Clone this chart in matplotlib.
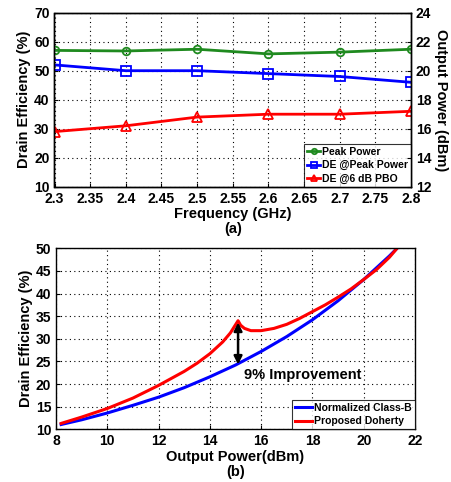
import matplotlib
matplotlib.use("Agg")
import matplotlib.pyplot as plt

plt.rcParams['font.family'] = ['Liberation Sans', 'DejaVu Sans']
plt.rcParams['font.weight'] = 'bold'

# ---- Panel (a) data ----
freq = [2.3, 2.4, 2.5, 2.6, 2.7, 2.8]
peak_power = [21.4, 21.36, 21.48, 21.16, 21.28, 21.48]      # dBm (right axis)
de_peak = [52, 50, 50, 49, 48, 46]                           # %
de_pbo = [29, 31, 34, 35, 35, 36]                            # %
freq_ticks = [2.3, 2.35, 2.4, 2.45, 2.5, 2.55, 2.6, 2.65, 2.7, 2.75, 2.8]
freq_ticklabels = ['2.3', '2.35', '2.4', '2.45', '2.5', '2.55', '2.6', '2.65', '2.7', '2.75', '2.8']

# ---- Panel (b) data ----
pout_b = [8.2, 9, 10, 11, 12, 13, 14, 15, 16, 17, 18, 19, 20, 21, 21.3]
eff_classb = [11.06, 12.1, 13.6, 15.3, 17.1, 19.2, 21.6, 24.2, 27.2, 30.5, 34.2, 38.4, 43.1, 48.3, 50.0]
pout_d = [8.2, 9, 10, 11, 12, 13, 13.5, 14, 14.5, 14.8, 15.1, 15.2, 15.35, 15.6, 16, 16.5, 17, 17.5, 18, 18.5, 19, 19.5, 20, 20.5, 21, 21.3]
eff_doherty = [11.3, 12.7, 14.6, 16.9, 19.7, 22.8, 24.6, 26.7, 29.3, 31.3, 34.0, 33.0, 32.3, 31.8, 31.8, 32.3, 33.2, 34.5, 36.0, 37.5, 39.2, 41.0, 43.1, 45.3, 48.0, 50.0]

fig = plt.figure(figsize=(4.52, 4.82), dpi=100)
W, H = 452, 482

def ax_rect(l, t, r, b):
    return [l / W, 1 - b / H, (r - l) / W, (b - t) / H]

tick_fs = 10
lab_fs = 10.5

# ---------- (a) ----------
ax1 = fig.add_axes(ax_rect(54.5, 12.7, 411, 186.7))
ax2 = ax1.twinx()
l1, = ax2.plot(freq, peak_power, color='#1f8a1f', lw=2, marker='o', ms=5.5,
               mfc='none', mec='#1f8a1f', mew=1.3, label='Peak Power')
l2, = ax1.plot(freq, de_peak, color='#0000ff', lw=2, marker='s', ms=6.5,
               mfc='none', mec='#0000ff', mew=1.3, label='DE @Peak Power')
l3, = ax1.plot(freq, de_pbo, color='#ff0000', lw=2, marker='^', ms=6.5,
               mfc='none', mec='#ff0000', mew=1.3, label='DE @6 dB PBO')
ax1.set_xlim(2.3, 2.8)
ax1.set_ylim(10, 70)
ax2.set_ylim(12, 24)
ax1.set_xticks(freq_ticks)
ax1.set_xticklabels(freq_ticklabels)
ax1.set_yticks(range(10, 71, 10))
ax2.set_yticks(range(12, 25, 2))
ax1.grid(True, color='black', linestyle=(0, (1, 3)), lw=0.8)
for a in (ax1, ax2):
    a.tick_params(labelsize=tick_fs, direction='in', length=3, width=0.8)
    for lab in a.get_xticklabels() + a.get_yticklabels():
        lab.set_fontweight('bold')
    for s in a.spines.values():
        s.set_linewidth(1.0)
ax1.set_ylabel('Drain Efficiency (%)', fontsize=lab_fs, fontweight='bold', labelpad=2)
ax2.set_ylabel('Output Power (dBm)', fontsize=lab_fs, fontweight='bold', rotation=270, labelpad=12)
ax1.set_xlabel('Frequency (GHz)\n(a)', fontsize=lab_fs, fontweight='bold', labelpad=1, linespacing=1.1)
leg = ax1.legend(handles=[l1, l2, l3], loc='lower right', fontsize=7.5, frameon=True,
                 fancybox=False, edgecolor='black', borderaxespad=0, handlelength=1.2,
                 handletextpad=0.2, borderpad=0.3, labelspacing=0.3, markerscale=0.7)
leg.get_frame().set_linewidth(0.8)
for t in leg.get_texts():
    t.set_fontweight('bold')

# ---------- (b) ----------
ax3 = fig.add_axes(ax_rect(56, 248.3, 415, 429.3))
b1, = ax3.plot(pout_b, eff_classb, color='#0000ff', lw=2.2, label='Normalized Class-B')
b2, = ax3.plot(pout_d, eff_doherty, color='#ff0000', lw=2.2, label='Proposed Doherty')
ax3.set_xlim(8, 22)
ax3.set_ylim(10, 50)
ax3.set_xticks(range(8, 23, 2))
ax3.set_yticks(range(10, 51, 5))
ax3.grid(True, color='black', linestyle=(0, (1, 3)), lw=0.8)
ax3.tick_params(labelsize=tick_fs, direction='in', length=3, width=0.8)
for lab in ax3.get_xticklabels() + ax3.get_yticklabels():
    lab.set_fontweight('bold')
for s in ax3.spines.values():
    s.set_linewidth(1.0)
ax3.set_ylabel('Drain Efficiency (%)', fontsize=lab_fs, fontweight='bold', labelpad=2)
ax3.set_xlabel('Output Power(dBm)\n(b)', fontsize=lab_fs, fontweight='bold', labelpad=1, linespacing=1.1)
ax3.annotate('', xy=(15.1, 24.3), xytext=(15.1, 33.6),
             arrowprops=dict(arrowstyle='<|-|>', color='black', lw=1.8,
                             mutation_scale=12, shrinkA=0, shrinkB=0))
ax3.text(15.35, 22.0, '9% Improvement', fontsize=10.5, fontweight='bold', ha='left', va='center')
leg2 = ax3.legend(handles=[b1, b2], loc='lower right', fontsize=7.5, frameon=True,
                  fancybox=False, edgecolor='black', borderaxespad=0, handlelength=1.6,
                  handletextpad=0.2, borderpad=0.3, labelspacing=0.3)
leg2.get_frame().set_linewidth(0.8)
for t in leg2.get_texts():
    t.set_fontweight('bold')

fig.savefig('out.png', dpi=100)
